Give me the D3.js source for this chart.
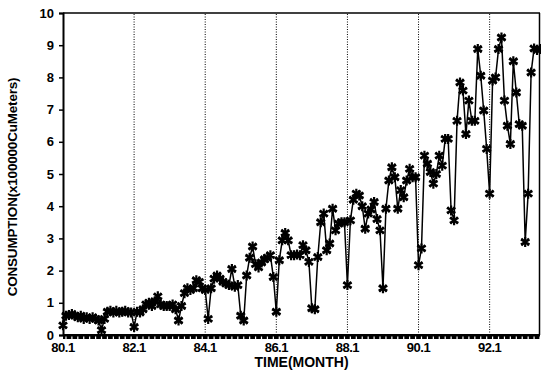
<!DOCTYPE html>
<html>
<head>
<meta charset="utf-8">
<script src="https://cdn.jsdelivr.net/npm/d3@7"></script>
<style>
  body { margin: 0; background: #fff; }
  svg { display: block; }
  text { font-family: "Liberation Sans", Arial, sans-serif; fill: #000; }
</style>
</head>
<body>
<div id="chart"></div>
<script>
// monthly consumption, 80.1 .. 93.6 (x100000 CuMeters)
const y1980 = [0.3, 0.6, 0.62, 0.65, 0.6, 0.55, 0.6, 0.5, 0.55, 0.5, 0.55, 0.5];
const y1981 = [0.45, 0.15, 0.5, 0.72, 0.75, 0.7, 0.75, 0.7, 0.72, 0.75, 0.7, 0.7];
const y1982 = [0.25, 0.72, 0.7, 0.8, 0.95, 1.0, 0.9, 1.05, 1.2, 0.95, 0.9, 0.9];
const y1983 = [0.9, 0.95, 0.8, 0.45, 0.9, 1.3, 1.45, 1.4, 1.45, 1.7, 1.65, 1.45];
const y1984 = [1.4, 0.5, 1.45, 1.75, 1.85, 1.75, 1.65, 1.6, 1.55, 2.05, 1.5, 1.55];
const y1985 = [0.6, 0.45, 1.85, 2.4, 2.75, 2.2, 2.1, 2.25, 2.35, 2.4, 2.48, 1.8];
const y1986 = [0.72, 2.32, 2.94, 3.17, 2.94, 2.48, 2.48, 2.5, 2.48, 2.79, 2.63, 2.27];
const y1987 = [0.83, 0.8, 2.42, 3.5, 3.77, 2.63, 2.84, 3.92, 3.25, 3.46, 3.5, 3.5];
const y1988 = [1.55, 3.56, 4.2, 4.39, 4.33, 4.0, 3.3, 3.77, 3.9, 4.13, 3.6, 3.25];
const y1989 = [1.45, 3.92, 4.8, 5.21, 4.9, 3.92, 4.5, 4.28, 4.8, 5.16, 4.9, 4.9];
const y1990 = [2.17, 2.69, 5.57, 5.32, 5.06, 4.7, 5.0, 5.57, 5.26, 6.09, 6.09, 3.87];
const y1991 = [3.56, 6.65, 7.84, 7.59, 6.24, 7.28, 6.65, 6.65, 8.88, 8.05, 6.97, 5.78];
const y1992 = [4.39, 7.9, 8.0, 8.88, 9.24, 7.28, 6.5, 5.93, 8.5, 7.53, 6.55, 6.5];
const y1993 = [2.89, 4.39, 8.15, 8.9, 8.85, 8.88];

const tickLabels = ["80.1", "82.1", "84.1", "86.1", "88.1", "90.1", "92.1"];
const tickMonths = [0, 24, 48, 72, 96, 120, 144];
const yTicks = [0, 1, 2, 3, 4, 5, 6, 7, 8, 9, 10];

const values = [].concat(y1980, y1981, y1982, y1983, y1984, y1985, y1986,
  y1987, y1988, y1989, y1990, y1991, y1992, y1993);
const data = values.map((v, i) => ({ m: i, v: v }));

const width = 541, height = 374;
const margin = { left: 63, right: 1, top: 13, bottom: 39 };

const svg = d3.select("#chart").append("svg")
  .attr("width", width)
  .attr("height", height);

const x = d3.scaleLinear()
  .domain([0, values.length - 1])
  .range([margin.left, width - margin.right]);

const y = d3.scaleLinear()
  .domain([0, 10])
  .range([height - margin.bottom, margin.top]);

// dotted vertical grid lines
svg.selectAll(".grid")
  .data(tickMonths.slice(1))
  .enter()
  .append("line")
  .attr("class", "grid")
  .attr("x1", d => x(d)).attr("x2", d => x(d))
  .attr("y1", y(0)).attr("y2", y(10))
  .style("stroke", "#000")
  .style("stroke-width", 1)
  .style("stroke-dasharray", "1,1.5");

// frame top / right
svg.append("line")
  .attr("x1", x(0)).attr("x2", x.range()[1])
  .attr("y1", y(10)).attr("y2", y(10))
  .style("stroke", "#000").style("stroke-width", 1.5);
svg.append("line")
  .attr("x1", x.range()[1] - 0.5).attr("x2", x.range()[1] - 0.5)
  .attr("y1", y(10)).attr("y2", y(0))
  .style("stroke", "#000").style("stroke-width", 1.5);

// left axis
const yAxis = svg.append("g")
  .attr("transform", `translate(${margin.left},0)`)
  .call(d3.axisLeft(y).tickValues(yTicks).tickSize(4).tickPadding(5).tickFormat(d3.format("d")));
yAxis.select(".domain").style("stroke-width", 2);
yAxis.selectAll("line").style("stroke-width", 1.5);
yAxis.selectAll("text")
  .style("font-size", "13px")
  .style("font-weight", "bold")
  .style("font-family", "'Liberation Sans', Arial, sans-serif");

// bottom axis: thick band with monthly gaps
const axisY = y(0);
svg.append("rect")
  .attr("x", x(0)).attr("y", axisY - 1)
  .attr("width", x.range()[1] - x(0)).attr("height", 5)
  .style("fill", "#000");
svg.selectAll(".gap")
  .data(d3.range(1, values.length, 2))
  .enter()
  .append("rect")
  .attr("class", "gap")
  .attr("x", d => x(d) - 0.6)
  .attr("y", axisY + 1.5)
  .attr("width", 1.2)
  .attr("height", 3)
  .style("fill", "#fff");

svg.selectAll(".xlab")
  .data(tickMonths)
  .enter()
  .append("text")
  .attr("class", "xlab")
  .attr("x", d => x(d))
  .attr("y", axisY + 17)
  .attr("text-anchor", "middle")
  .style("font-size", "13px")
  .style("font-weight", "bold")
  .style("letter-spacing", "-0.5px")
  .text((d, i) => tickLabels[i]);

// axis titles
svg.append("text")
  .attr("x", (x(0) + x.range()[1]) / 2)
  .attr("y", 367)
  .attr("text-anchor", "middle")
  .style("font-size", "14px")
  .style("font-weight", "bold")
  .text("TIME(MONTH)");

svg.append("text")
  .attr("transform", `translate(17,${(y(0) + y(10)) / 2 + 13}) rotate(-90)`)
  .attr("text-anchor", "middle")
  .style("font-size", "13.5px")
  .style("font-weight", "bold")
  .style("letter-spacing", "-0.2px")
  .text("CONSUMPTION(x100000CuMeters)");

// series line
const line = d3.line()
  .x(d => x(d.m))
  .y(d => y(d.v));

svg.append("path")
  .datum(data)
  .attr("d", line)
  .style("fill", "none")
  .style("stroke", "#000")
  .style("stroke-width", 1.5);

// asterisk markers
const star = d3.symbol().type(d3.symbolAsterisk).size(70);
const cross = d3.symbol().type(d3.symbolTimes).size(35);
svg.selectAll(".mk")
  .data(data)
  .enter()
  .append("path")
  .attr("class", "mk")
  .attr("transform", d => `translate(${x(d.m)},${y(d.v)})`)
  .attr("d", star)
  .style("fill", "none")
  .style("stroke", "#000")
  .style("stroke-width", 2.2);
svg.selectAll(".mk2")
  .data(data)
  .enter()
  .append("path")
  .attr("class", "mk2")
  .attr("transform", d => `translate(${x(d.m)},${y(d.v)})`)
  .attr("d", cross)
  .style("fill", "none")
  .style("stroke", "#000")
  .style("stroke-width", 1.8);
</script>
</body>
</html>
